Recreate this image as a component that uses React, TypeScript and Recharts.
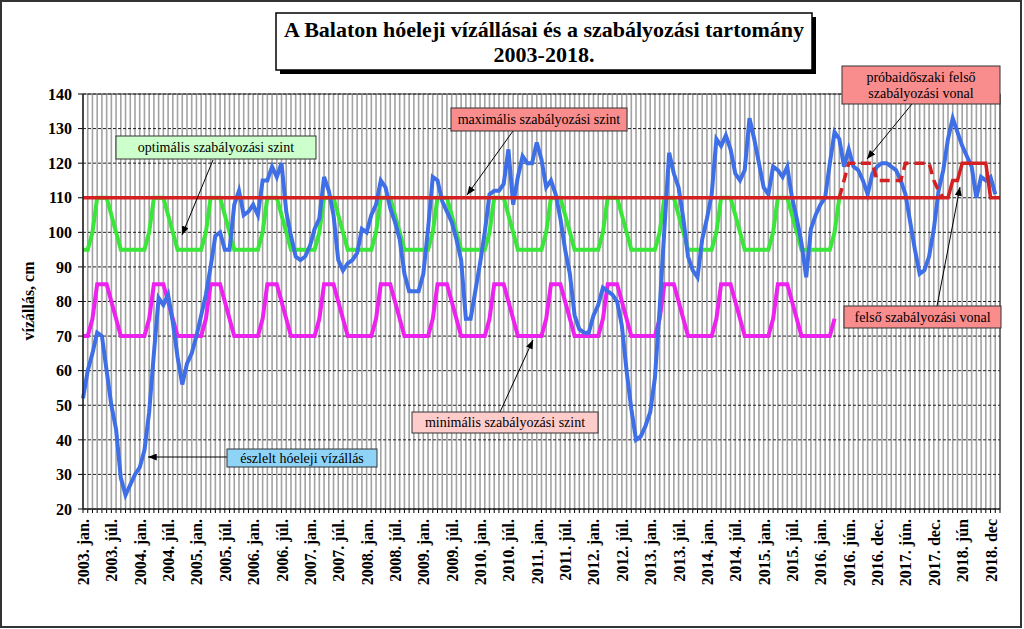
import React from 'react';
import { LineChart, Line, XAxis, YAxis, CartesianGrid } from 'recharts';

const SERIF = '"Liberation Serif", "Times New Roman", serif';

// tick labels, one every 6th month position (index 0, 6, 12 ... 192)
const TICK_LABELS = [
  '2003. jan.', '2003. júl.', '2004. jan.', '2004. júl.', '2005. jan.', '2005. júl.',
  '2006. jan.', '2006. júl.', '2007. jan.', '2007. júl.', '2008. jan.', '2008. júl.',
  '2009. jan.', '2009. júl.', '2010. jan.', '2010. júl.', '2011. jan.', '2011. júl.',
  '2012. jan.', '2012. júl.', '2013. jan.', '2013. júl.', '2014. jan.', '2014. júl.',
  '2015. jan.', '2015. júl.', '2016. jan.', '2016. jún.', '2016. dec.', '2017. jún.',
  '2017. dec.', '2018. jún', '2018. dec',
];

const MONTH_COUNT = 195; // positions 0..194 on the category axis

// observed beginning-of-month water level (cm), one row per year
const observedLevel = [
  52, 60, 65, 71, 70, 60, 50, 43, 29, 24, 27, 30,
  32, 37, 48, 65, 81, 79, 82, 74, 64, 56, 62, 65,
  70, 76, 82, 90, 99, 100, 95, 95, 108, 112, 105, 106,
  108, 105, 115, 115, 119, 116, 120, 106, 99, 93, 92, 93,
  96, 101, 104, 116, 112, 105, 92, 89, 91, 92, 94, 101,
  100, 105, 108, 115, 113, 107, 103, 98, 88, 83, 83, 83,
  88, 101, 116, 115, 109, 106, 103, 98, 92, 75, 75, 83,
  91, 100, 111, 112, 112, 114, 124, 108, 116, 122, 120, 120,
  126, 121, 113, 115, 111, 104, 95, 88, 76, 72, 71, 71,
  76, 79, 84, 83, 82, 80, 73, 60, 49, 40, 41, 44,
  48, 58, 78, 101, 123, 117, 113, 104, 93, 89, 87, 98,
  104, 111, 127, 125, 128, 124, 117, 115, 118, 133, 127, 120,
  113, 111, 119, 118, 116, 119, 110, 104, 97, 87, 101, 105,
  108, 110, 120, 129, 127, 119, 124, 119, 118, 115, 111, 117,
  119, 120, 120, 119, 118, 115, 111, 103, 95, 88, 89, 93,
  101, 112, 118, 127, 133, 129, 125, 122, 119, 110, 116, 115, 116, 111,
];

// optimális szabályozási szint
const optimalLevel = [
  95, 95, 100, 110, 110, 110, 105, 100, 95, 95, 95, 95,
  95, 95, 100, 110, 110, 110, 105, 100, 95, 95, 95, 95,
  95, 95, 100, 110, 110, 110, 105, 100, 95, 95, 95, 95,
  95, 95, 100, 110, 110, 110, 105, 100, 95, 95, 95, 95,
  95, 95, 100, 110, 110, 110, 105, 100, 95, 95, 95, 95,
  95, 95, 100, 110, 110, 110, 105, 100, 95, 95, 95, 95,
  95, 95, 100, 110, 110, 110, 105, 100, 95, 95, 95, 95,
  95, 95, 100, 110, 110, 110, 105, 100, 95, 95, 95, 95,
  95, 95, 100, 110, 110, 110, 105, 100, 95, 95, 95, 95,
  95, 95, 100, 110, 110, 110, 105, 100, 95, 95, 95, 95,
  95, 95, 100, 110, 110, 110, 105, 100, 95, 95, 95, 95,
  95, 95, 100, 110, 110, 110, 105, 100, 95, 95, 95, 95,
  95, 95, 100, 110, 110, 110, 105, 100, 95, 95, 95, 95,
  95, 95, 95, 100, 110,
];

// minimális szabályozási szint
const minimalLevel = [
  70, 70, 75, 85, 85, 85, 80, 75, 70, 70, 70, 70,
  70, 70, 75, 85, 85, 85, 80, 75, 70, 70, 70, 70,
  70, 70, 75, 85, 85, 85, 80, 75, 70, 70, 70, 70,
  70, 70, 75, 85, 85, 85, 80, 75, 70, 70, 70, 70,
  70, 70, 75, 85, 85, 85, 80, 75, 70, 70, 70, 70,
  70, 70, 75, 85, 85, 85, 80, 75, 70, 70, 70, 70,
  70, 70, 75, 85, 85, 85, 80, 75, 70, 70, 70, 70,
  70, 70, 75, 85, 85, 85, 80, 75, 70, 70, 70, 70,
  70, 70, 75, 85, 85, 85, 80, 75, 70, 70, 70, 70,
  70, 70, 75, 85, 85, 85, 80, 75, 70, 70, 70, 70,
  70, 70, 75, 85, 85, 85, 80, 75, 70, 70, 70, 70,
  70, 70, 75, 85, 85, 85, 80, 75, 70, 70, 70, 70,
  70, 70, 75, 85, 85, 85, 80, 75, 70, 70, 70, 70,
  70, 70, 70, 75,
];

// maximális / felső szabályozási vonal: 110 cm, then the 2018 shape
const MAX_LEVEL = 110;
const UPPER_TAIL_START = 184;
const upperTail = [115, 115, 120, 120, 120, 120, 120, 120, 110, 110, 110];

// próbaidőszaki felső szabályozási vonal (dashed)
const TRIAL_START = 160;
const trialUpper = [
  110, 115, 120, 120, 120, 120, 120, 120, 115, 115, 115, 115,
  115, 115, 120, 120, 120, 120, 120, 120, 115, 112, 110,
];

const Y_TICKS = [20, 30, 40, 50, 60, 70, 80, 90, 100, 110, 120, 130, 140];

const data = Array.from({ length: MONTH_COUNT }, (_, i) => ({
  i,
  observed: i < observedLevel.length ? observedLevel[i] : null,
  optimal: i < optimalLevel.length ? optimalLevel[i] : null,
  minimal: i < minimalLevel.length ? minimalLevel[i] : null,
  upper: i < UPPER_TAIL_START ? MAX_LEVEL : upperTail[i - UPPER_TAIL_START],
  trial:
    i >= TRIAL_START && i < TRIAL_START + trialUpper.length
      ? trialUpper[i - TRIAL_START]
      : null,
}));

const monthTicks = data.map(d => d.i);

function MonthTick(props: any) {
  const { x, y, payload } = props;
  const i = payload.value;
  if (i % 6 !== 0) return <g />;
  const tx = x + 6;
  const ty = y + 4;
  return (
    <text
      x={tx}
      y={ty}
      transform={`rotate(-90 ${tx} ${ty})`}
      textAnchor="end"
      fontFamily={SERIF}
      fontWeight="bold"
      fontSize={16}
      fill="#000"
    >
      {TICK_LABELS[i / 6]}
    </text>
  );
}

function NoteBox({ x, y, w, h, fill, lines }: any) {
  const lineH = 16;
  const cy = y + h / 2 - ((lines.length - 1) * lineH) / 2;
  return (
    <g>
      <rect x={x} y={y} width={w} height={h} fill={fill} stroke="#333" strokeWidth={1} />
      {lines.map((t: string, k: number) => (
        <text
          key={k}
          x={x + w / 2}
          y={cy + k * lineH}
          textAnchor="middle"
          dominantBaseline="central"
          fontFamily={SERIF}
          fontSize={14}
          fill="#000"
        >
          {t}
        </text>
      ))}
    </g>
  );
}

function Arrow({ x1, y1, x2, y2 }: any) {
  return <line x1={x1} y1={y1} x2={x2} y2={y2} stroke="#000" strokeWidth={1} markerEnd="url(#arrowHead)" />;
}

function Overlay() {
  return (
    <svg
      width={1024}
      height={629}
      style={{ position: 'absolute', left: 0, top: 0, pointerEvents: 'none' }}
    >
      <defs>
        <marker id="arrowHead" viewBox="0 0 10 8" refX={10} refY={4} markerWidth={9} markerHeight={7}
          markerUnits="userSpaceOnUse" orient="auto">
          <path d="M0,0 L10,4 L0,8 z" fill="#000" />
        </marker>
      </defs>

      {/* outer frame and plot border */}
      <rect x={1} y={1} width={1020} height={626} fill="none" stroke="#333" strokeWidth={2} />
      <rect x={83} y={94} width={917} height={415} fill="none" stroke="#333" strokeWidth={1} />

      {/* title */}
      <rect x={280} y={17} width={536} height={57} fill="#000" />
      <rect x={276} y={13} width={536} height={57} fill="#fff" stroke="#000" strokeWidth={1.5} />
      <text x={544} y={37} textAnchor="middle" fontFamily={SERIF} fontWeight="bold" fontSize={22} fill="#000">
        A Balaton hóeleji vízállásai és a szabályozási tartomány
      </text>
      <text x={544} y={62} textAnchor="middle" fontFamily={SERIF} fontWeight="bold" fontSize={22} fill="#000">
        2003-2018.
      </text>

      {/* y axis title */}
      <text x={34} y={301} transform="rotate(-90 34 301)" textAnchor="middle" fontFamily={SERIF}
        fontWeight="bold" fontSize={16} fill="#000">
        vízállás, cm
      </text>

      {/* annotations */}
      <Arrow x1={213} y1={160} x2={182} y2={235} />
      <NoteBox x={116} y={136} w={200} h={23} fill="#ccffcc" lines={['optimális szabályozási szint']} />

      <Arrow x1={513} y1={131} x2={467} y2={195} />
      <NoteBox x={451} y={108} w={176} h={23} fill="#f98c8c" lines={['maximális szabályozási szint']} />

      <Arrow x1={912} y1={104} x2={867} y2={159} />
      <NoteBox x={842} y={66} w={158} h={38} fill="#f98c8c" lines={['próbaidőszaki felső', 'szabályozási vonal']} />

      <Arrow x1={937} y1={306} x2={960} y2={187} />
      <NoteBox x={844} y={306} w={157} h={22} fill="#f98c8c" lines={['felső szabályozási vonal']} />

      <Arrow x1={500} y1={412} x2={533} y2={340} />
      <NoteBox x={412} y={412} w={186} h={21} fill="#ffcccc" lines={['minimális szabályozási szint']} />

      <Arrow x1={227} y1={457} x2={148} y2={457} />
      <NoteBox x={227} y={449} w={150} h={18} fill="#8fd3f7" lines={['észlelt hóeleji vízállás']} />
    </svg>
  );
}

export default function App() {
  return (
    <div style={{ position: 'absolute', left: 0, top: 0, width: 1024, height: 629, background: '#fff' }}>
      <LineChart
        width={1024}
        height={629}
        data={data}
        margin={{ top: 94, right: 24, bottom: 0, left: 0 }}
      >
        <CartesianGrid horizontal={false} stroke="#a3a3a3" strokeWidth={1.6} />
        <CartesianGrid vertical={false} stroke="#222" strokeDasharray="3 2" />
        <XAxis
          dataKey="i"
          type="number"
          domain={[0, MONTH_COUNT - 1]}
          ticks={monthTicks}
          interval={0}
          height={120}
          tickSize={4}
          tick={<MonthTick />}
          axisLine={{ stroke: '#000' }}
          tickLine={{ stroke: '#000' }}
        />
        <YAxis
          type="number"
          domain={[20, 140]}
          ticks={Y_TICKS}
          interval={0}
          width={83}
          tickSize={5}
          tickMargin={6}
          axisLine={{ stroke: '#000' }}
          tickLine={{ stroke: '#000' }}
          tick={{ fill: '#000', fontSize: 16, fontWeight: 'bold', fontFamily: SERIF }}
        />
        <Line dataKey="optimal" stroke="#3be63b" strokeWidth={4} dot={false} isAnimationActive={false} />
        <Line dataKey="minimal" stroke="#ee22ee" strokeWidth={4} dot={false} isAnimationActive={false} />
        <Line dataKey="observed" stroke="#3f6fe6" strokeWidth={4} dot={false} isAnimationActive={false} />
        <Line dataKey="upper" stroke="#d42020" strokeWidth={3.5} dot={false} isAnimationActive={false} />
        <Line
          dataKey="trial"
          stroke="#d42020"
          strokeWidth={3.5}
          strokeDasharray="10 6"
          dot={false}
          isAnimationActive={false}
        />
      </LineChart>
      <Overlay />
    </div>
  );
}
